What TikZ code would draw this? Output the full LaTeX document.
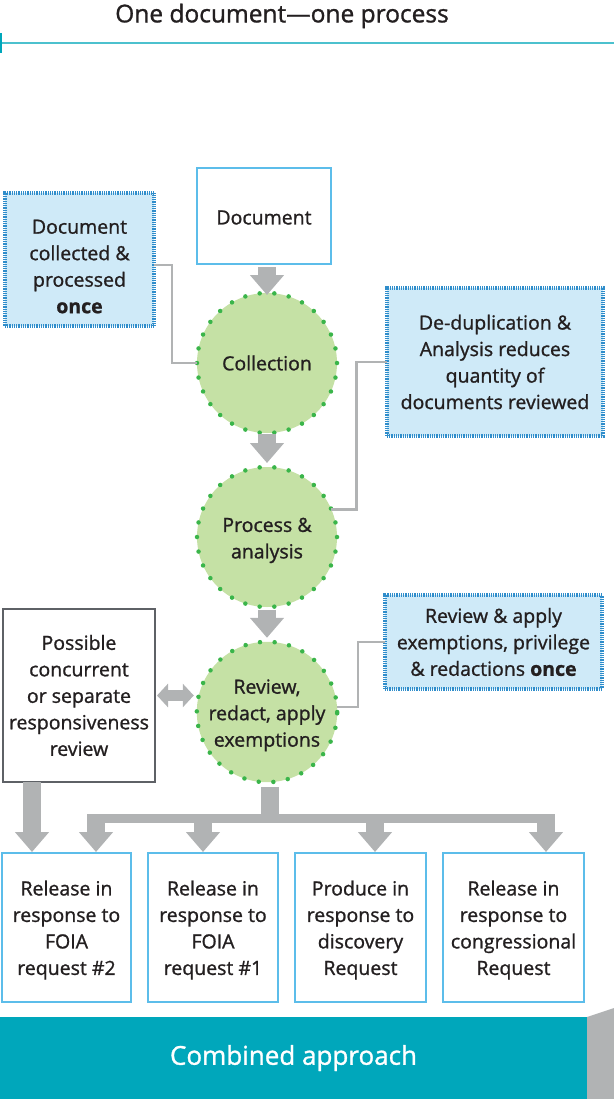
\documentclass[tikz,border=0pt]{standalone}
\usepackage{fontspec}
\setmainfont{Open Sans}[FakeBold=1.1]
\usetikzlibrary{arrows.meta}
\usetikzlibrary{calc}

\definecolor{ink}{HTML}{231F20}
\definecolor{linecyan}{HTML}{4CC1CE}
\definecolor{bannerteal}{HTML}{00A7BB}
\definecolor{arrowgray}{HTML}{B1B3B4}
\definecolor{circfill}{HTML}{C5E1A5}
\definecolor{circdot}{HTML}{3AB54A}
\definecolor{notefill}{HTML}{CFEAF8}
\definecolor{noteedge}{HTML}{2F8DCB}
\definecolor{boxblue}{HTML}{5CBDEA}
\definecolor{darkframe}{HTML}{5E6166}

% raise the first line so the text block sits a little lower
\newcommand{\lift}[1]{\rule{0pt}{#1bp}}

\tikzset{
  stage/.style={circle, minimum size=140bp, inner sep=0pt, outer sep=0pt, fill=circfill, align=center,
    postaction={draw=circdot, line width=4.5bp, line cap=round, dash pattern=on 0pt off 14.661bp}},
  note/.style={rectangle, fill=notefill, draw=noteedge, line width=4bp, dash pattern=on 0.9bp off 0.9bp,
    inner sep=0pt, outer sep=0pt, align=center},
  outbox/.style={rectangle, draw=boxblue, line width=2.5bp, fill=white, inner sep=0pt, outer sep=0pt, align=center},
  grayframe/.style={rectangle, draw=darkframe, line width=2.5bp, fill=white, inner sep=0pt, outer sep=0pt, align=center},
  bigarrow/.style={draw=arrowgray, line width=18bp, -{Triangle[width=33bp,length=20bp]}},
  dblarrow/.style={draw=arrowgray, line width=11bp, {Triangle[width=23bp,length=11bp]}-{Triangle[width=23bp,length=11bp]}},
  link/.style={draw=arrowgray, line width=2.5bp},
}

\begin{document}
\begin{tikzpicture}[x=1bp, y=-1bp, text=ink, font=\fontsize{19.5bp}{26.5bp}\selectfont]
  \useasboundingbox (0,0) rectangle (614,1099);

  % heading
  \node[font=\fontsize{24.5bp}{28bp}\selectfont] (title) at (282,16) {One document—one process};
  \draw[linecyan, line width=2.5bp] (0,43) -- (614,43);
  \draw[bannerteal, line width=2.5bp] (1,33) -- (1,53);

  % main chain
  \node[outbox, minimum width=134bp, minimum height=96bp] (doc) at (264,216) {\lift{17}Document};
  \node[stage] (coll) at (267,363) {Collection};
  \node[stage] (proc) at (267,537) {\lift{21}Process \&\\analysis};
  \node[stage] (rev) at (267,712) {\lift{21}Review,\\redact, apply\\exemptions};

  % side notes
  \node[note, minimum width=149bp, minimum height=133bp] (once1) at (79.5,259.5) {\lift{28}Document\\collected \&\\processed\\\textbf{once}};
  \node[note, minimum width=216bp, minimum height=148bp] (dedup) at (495,362) {De-duplication \&\\Analysis reduces\\quantity of\\documents reviewed};
  \node[note, minimum width=217bp, minimum height=94bp] (once2) at (493.5,642) {Review \& apply\\exemptions, privilege\\\& redactions \textbf{once}};
  \node[grayframe, minimum width=152bp, minimum height=173bp] (resp) at (79,695.5) {Possible\\concurrent\\or separate\\responsiveness\\review};

  % outputs
  \node[outbox, minimum width=129bp, minimum height=149bp] (foia2) at (66.5,927.5) {\lift{20}Release in\\response to\\FOIA\\request \#2};
  \node[outbox, minimum width=130bp, minimum height=149bp] (foia1) at (213,927.5) {\lift{20}Release in\\response to\\FOIA\\request \#1};
  \node[outbox, minimum width=131bp, minimum height=149bp] (disc) at (360.5,927.5) {\lift{20}Produce in\\response to\\discovery\\Request};
  \node[outbox, minimum width=141bp, minimum height=149bp] (congr) at (513.5,927.5) {\lift{20}Release in\\response to\\congressional\\Request};

  \draw[link] ([yshift=-5.5bp]once1.east) -- ++(18,0) |- (coll.west);
  \draw[link] (proc.23) -- ++(25,0) |- (dedup.west);
  \draw[link] (rev.4) -- ++(21,0) |- (once2.west);

  \draw[bigarrow, shorten <=3bp, shorten >=-2bp] (coll.north |- doc.south) -- (coll.north);
  \draw[bigarrow, shorten <=1bp, shorten >=4bp] (coll) -- (proc);
  \draw[bigarrow, shorten <=3bp, shorten >=4bp] (proc) -- (rev);
  \draw[dblarrow, shorten <=2bp, shorten >=3bp] (resp.east) -- (resp.east -| rev.west);

  % fan out to the requests
  \coordinate (fork) at (270,818.5);
  \coordinate (barl) at (87,818.5);
  \coordinate (barr) at (555,818.5);
  \draw[arrowgray, line width=18bp, shorten <=5bp] (fork |- rev.south) -- (fork);
  \draw[arrowgray, line width=9bp] (barl) -- (barr);
  \foreach \x/\t in {96/foia2, 203/foia1, 375/disc, 546/congr} {
    \coordinate (drop\t) at (\x,814);
    \draw[bigarrow, shorten >=1bp] (drop\t) -- (drop\t |- \t.north);
  }
  \draw[bigarrow, shorten >=1bp] ([xshift=-47bp]resp.south) -- ([xshift=-47bp]resp.south |- foia2.north);

  % footer
  \node[fill=bannerteal, text=white, minimum width=587bp, minimum height=82bp, inner sep=0pt, outer sep=0pt,
    anchor=north west, font=\fontsize{26bp}{30bp}\selectfont] (banner) at (0,1017) {Combined approach};
  \fill[arrowgray] (banner.north east) -- ++(27,-9) -- ++(0,91) -- (banner.south east) -- cycle;
\end{tikzpicture}
\end{document}
